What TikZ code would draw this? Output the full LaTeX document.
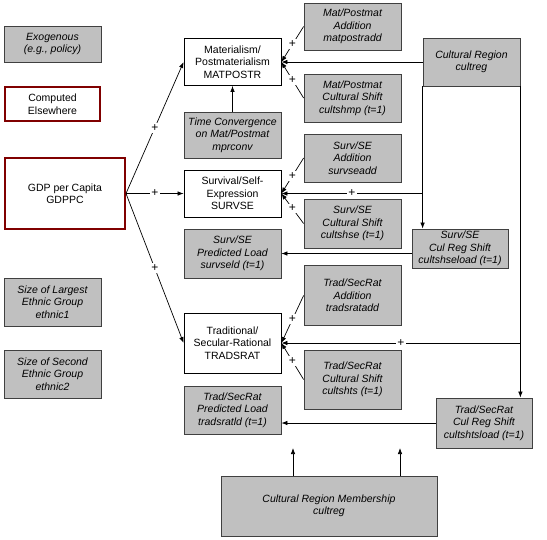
\documentclass[tikz,border=0pt]{standalone}
\usepackage{fontspec}
\setmainfont{Liberation Sans}
\usetikzlibrary{arrows.meta}
\definecolor{boxgray}{HTML}{C0C0C0}
\definecolor{edgegray}{HTML}{404040}
\definecolor{darkred}{HTML}{800000}
\begin{document}
\begin{tikzpicture}[x=1pt,y=-1pt,
  box/.style={draw, line width=0.8pt, minimum width=97pt, inner sep=0pt, align=center,
    font=\fontsize{10.5}{12.5}\selectfont},
  exo/.style={box, fill=boxgray, draw=edgegray, font=\fontsize{10.5}{12.5}\selectfont\itshape},
  endo/.style={box, draw=black},
  comp/.style={box, draw=darkred, line width=2pt},
  arr/.style={-{Latex[length=6pt,width=4.5pt]}, line width=0.7pt},
  plus/.style={fill=white, inner sep=1.5pt, font=\fontsize{12}{12}\selectfont}]
\useasboundingbox (0,0) rectangle (547,539);
% legend / left column
\node[exo, minimum height=36pt] (exg) at (52.5,44) {Exogenous\\(e.g., policy)};
\node[comp, minimum width=95pt, minimum height=34pt] (cmp) at (52.5,104) {Computed\\Elsewhere};
\node[comp, minimum width=120pt, minimum height=71pt] (gdp) at (65,193.5) {GDP per Capita\\GDPPC};
\node[exo, minimum height=48pt] (eth1) at (52.5,302) {Size of Largest\\Ethnic Group\\ethnic1};
\node[exo, minimum height=48pt] (eth2) at (52.5,374) {Size of Second\\Ethnic Group\\ethnic2};
% middle column
\node[endo, minimum height=47pt] (mat) at (232.5,62) {Materialism/\\Postmaterialism\\MATPOSTR};
\node[exo, minimum height=46pt] (tc) at (232.5,135) {Time Convergence\\on Mat/Postmat\\mprconv};
\node[endo, minimum height=47pt] (surv) at (232.5,193.5) {Survival/Self-\\Expression\\SURVSE};
\node[exo, minimum height=49pt] (ssl) at (232.5,253.5) {Surv/SE\\Predicted Load\\survseld (t=1)};
\node[endo, minimum height=60pt] (trad) at (232.5,343) {Traditional/\\Secular-Rational\\TRADSRAT};
\node[exo, minimum height=48pt] (tsl) at (232.5,410) {Trad/SecRat\\Predicted Load\\tradsratld (t=1)};
% right-middle column
\node[exo, minimum height=47pt] (mpa) at (352.5,26.5) {Mat/Postmat\\Addition\\matpostradd};
\node[exo, minimum height=48pt] (mpc) at (352.5,98) {Mat/Postmat\\Cultural Shift\\cultshmp (t=1)};
\node[exo, minimum height=48pt] (ssa) at (352.5,158) {Surv/SE\\Addition\\survseadd};
\node[exo, minimum height=49pt] (ssc) at (352.5,223.5) {Surv/SE\\Cultural Shift\\cultshse (t=1)};
\node[exo, minimum height=60pt] (tsa) at (352.5,295.5) {Trad/SecRat\\Addition\\tradsratadd};
\node[exo, minimum height=59pt] (tsc) at (352.5,379.5) {Trad/SecRat\\Cultural Shift\\cultshts (t=1)};
% right column
\node[exo, minimum height=48pt] (cr) at (471.5,62) {Cultural Region\\cultreg};
\node[exo, minimum width=96pt, minimum height=39pt] (sscr) at (460,248.5) {Surv/SE\\Cul Reg Shift\\cultshseload (t=1)};
\node[exo, minimum width=96pt, minimum height=50pt] (tscr) at (484,423) {Trad/SecRat\\Cul Reg Shift\\cultshtsload (t=1)};
\node[exo, minimum width=216pt, minimum height=60pt] (crm) at (329,506) {Cultural Region Membership\\cultreg};
\coordinate (u1) at (293,448);
\coordinate (u2) at (400,448);
% connectors from GDP
\draw[arr] (gdp.east) -- node[plus]{+} (mat.west);
\draw[arr] (gdp.east) -- node[plus]{+} (surv.west);
\draw[arr] (gdp.east) -- node[plus]{+} (trad.west);
\draw[arr] (tc.north) -- (mat.south);
% additions and shifts
\draw[arr] (mpa.west) -- node[plus]{+} (mat.east);
\draw[arr] (mpc.west) -- node[plus]{+} (mat.east);
\draw[arr] (ssa.west) -- node[plus]{+} (surv.east);
\draw[arr] (ssc.west) -- node[plus]{+} (surv.east);
\draw[arr] (tsa.west) -- node[plus]{+} (trad.east);
\draw[arr] (tsc.west) -- node[plus]{+} (trad.east);
% cultural region
\draw[arr] (cr.west) -- (mat.east);
\draw[arr] (cr.south west) -- (sscr.north -| cr.south west);
\draw[arr] (cr.south east) -- (tscr.north -| cr.south east);
\draw[arr] (surv.east -| cr.west) -- node[plus]{+} (surv.east);
\draw[arr] (trad.east -| cr.east) -- node[plus]{+} (trad.east);
\draw[arr] (ssl.east -| sscr.west) -- (ssl.east);
\draw[arr] (tscr.west) -- (tscr.west -| tsl.east);
\draw[arr] (crm.north -| u1) -- (u1);
\draw[arr] (crm.north -| u2) -- (u2);
\end{tikzpicture}
\end{document}
